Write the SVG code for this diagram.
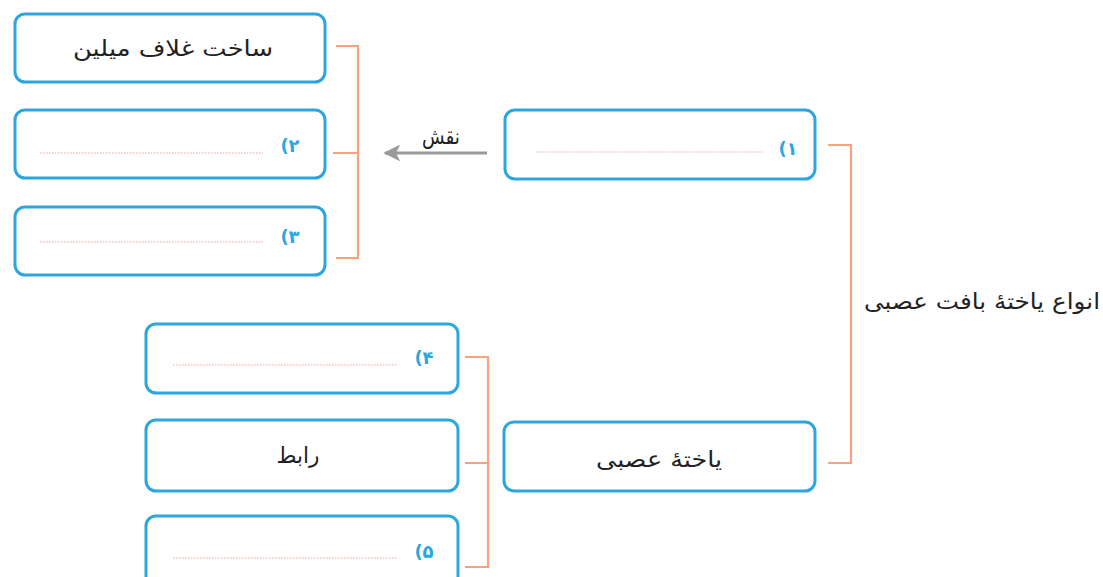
<svg xmlns="http://www.w3.org/2000/svg" width="1103" height="577" viewBox="0 0 1103 577">
<defs>
<style>
.box{fill:#fff;stroke:#2ba6de;stroke-width:3}
.br{fill:none;stroke:#f6a27f;stroke-width:2.2}
.dot{stroke:#f2a0a0;stroke-width:1.2;stroke-dasharray:1.5 1.5}
.t{font-family:"DejaVu Sans",sans-serif;font-size:22px;fill:#222;text-anchor:middle}
.n{font-family:"DejaVu Sans",sans-serif;font-size:18px;font-weight:bold;fill:#29a8e0;text-anchor:middle;direction:ltr;unicode-bidi:bidi-override}
</style>
<marker id="ah" markerWidth="17" markerHeight="17" refX="9" refY="5" orient="auto" markerUnits="userSpaceOnUse" viewBox="0 0 10 10">
<path d="M0,0 L10,5 L0,10 L2.5,5 Z" fill="#9a9a9a"/>
</marker>
</defs>
<rect width="1103" height="577" fill="#fff"/>
<g id="connectors">
<path class="br" d="M336,46 H358 V258 H336 M333,153 H358"/>
<path class="br" d="M828,145 H851 V463 H828"/>
<path class="br" d="M465,357 H488 V567 H465 M465,463 H488"/>
<line x1="487" y1="153" x2="385" y2="153" stroke="#9a9a9a" stroke-width="3" marker-end="url(#ah)"/>
<text class="t" x="441" y="144" direction="rtl" font-size="18" textLength="38" lengthAdjust="spacingAndGlyphs">نقش</text>
</g>
<g id="node-myelin">
<rect class="box" x="15" y="14" width="310" height="68" rx="10"/>
<text class="t" x="173" y="56" direction="rtl" textLength="200" lengthAdjust="spacingAndGlyphs">ساخت غلاف میلین</text>
</g>
<g id="node-2">
<rect class="box" x="15" y="110" width="310" height="68" rx="10"/>
<line class="dot" x1="40" y1="153" x2="263" y2="153"/>
<text class="n" x="290" y="152">(۲</text>
</g>
<g id="node-3">
<rect class="box" x="15" y="207" width="310" height="68" rx="10"/>
<line class="dot" x1="40" y1="242" x2="263" y2="242"/>
<text class="n" x="290" y="243">(۳</text>
</g>
<g id="node-1">
<rect class="box" x="505" y="110" width="310" height="69" rx="10"/>
<line class="dot" x1="537" y1="152" x2="763" y2="152"/>
<text class="n" x="788" y="155">(۱</text>
</g>
<g id="node-types">
<text class="t" x="982" y="309" direction="rtl" textLength="236" lengthAdjust="spacingAndGlyphs">انواع یاختهٔ بافت عصبی</text>
</g>
<g id="node-neuron">
<rect class="box" x="504" y="422" width="311" height="69" rx="10"/>
<text class="t" x="659" y="467" direction="rtl" textLength="126" lengthAdjust="spacingAndGlyphs">یاختهٔ عصبی</text>
</g>
<g id="node-4">
<rect class="box" x="146" y="324" width="312" height="69" rx="10"/>
<line class="dot" x1="173" y1="365" x2="397" y2="365"/>
<text class="n" x="424" y="364">(۴</text>
</g>
<g id="node-rabet">
<rect class="box" x="146" y="420" width="312" height="71" rx="10"/>
<text class="t" x="298" y="463" direction="rtl" textLength="43" lengthAdjust="spacingAndGlyphs">رابط</text>
</g>
<g id="node-5">
<rect class="box" x="146" y="516" width="312" height="72" rx="10"/>
<line class="dot" x1="173" y1="558" x2="397" y2="558"/>
<text class="n" x="424" y="558">(۵</text>
</g>
</svg>
